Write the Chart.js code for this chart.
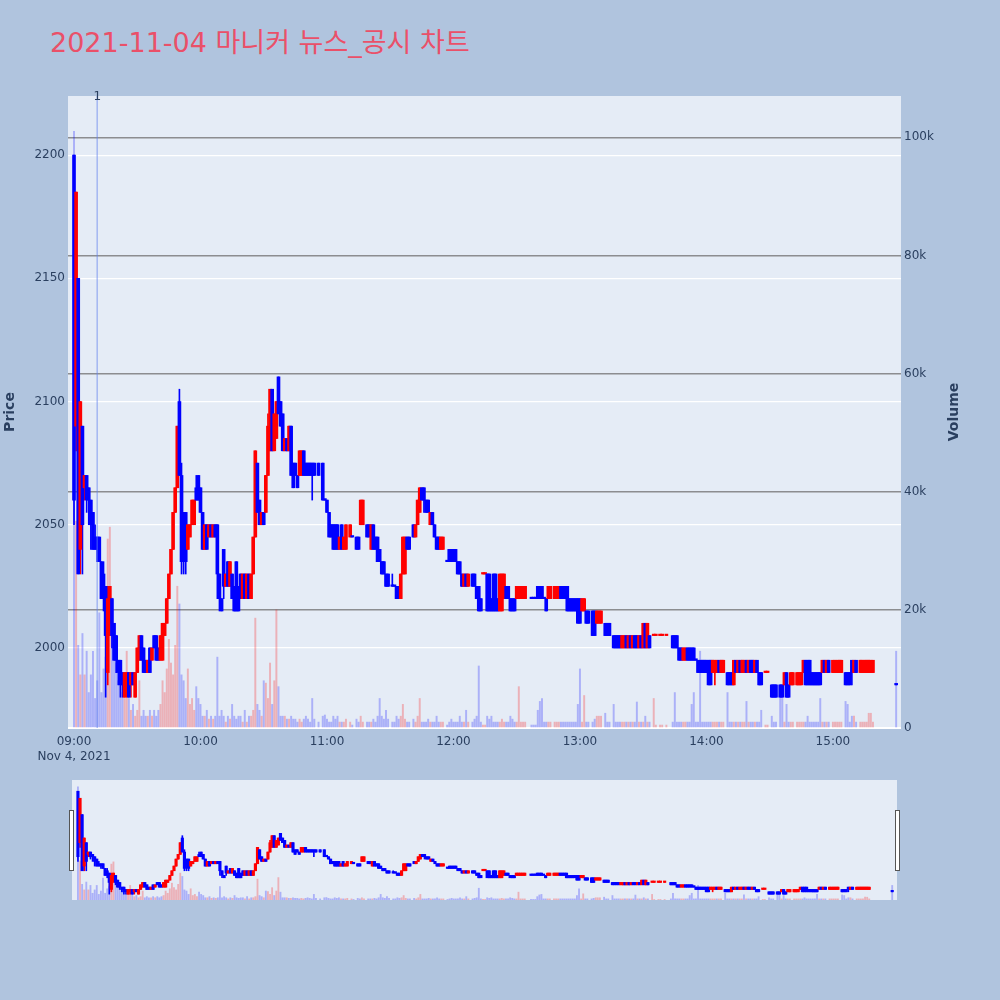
<!DOCTYPE html>
<html>
<head>
<meta charset="utf-8">
<script src="https://cdn.jsdelivr.net/npm/chart.js@4.4.0/dist/chart.umd.min.js"></script>
<style>
  body { margin: 0; background: #b0c4de; width: 1000px; height: 1000px; overflow: hidden; }
  #title { position: absolute; left: 50px; top: 21px; font-size: 27px; color: #ea5069; white-space: nowrap;
           font-family: "DejaVu Sans", "Noto Sans CJK KR", sans-serif; }
  #main { position: absolute; left: 0; top: 0; }
  #slider { position: absolute; left: 66px; top: 780px; }
</style>
</head>
<body>
<div id="title">2021-11-04 마니커 뉴스_공시 차트</div>
<canvas id="main" width="1000" height="770"></canvas>
<canvas id="slider" width="837" height="120"></canvas>
<script>
// minutes after 09:00, one candle per traded minute
const minutes = [
  0,1,2,3,4,5,6,7,8,9,
  10,11,12,13,14,15,16,17,18,19,
  20,21,22,23,24,25,26,27,28,29,
  30,31,32,33,34,35,36,37,38,39,
  40,41,42,43,44,45,46,47,48,49,
  50,51,52,53,54,55,56,57,58,59,
  60,61,62,63,64,65,66,67,68,69,
  70,71,72,73,74,75,76,77,78,79,
  80,81,82,83,84,85,86,87,88,89,
  90,91,92,93,94,95,96,97,98,99,
  100,101,102,103,104,105,106,107,108,109,
  110,111,112,113,114,116,118,119,120,121,
  122,123,124,125,126,127,128,129,131,132,
  134,135,136,137,139,140,141,142,143,144,
  145,146,147,148,149,151,152,153,154,155,
  156,157,158,159,161,162,163,164,165,166,
  167,168,169,170,171,172,173,174,175,177,
  178,179,180,181,182,183,184,185,186,187,
  189,190,191,192,193,194,195,196,197,198,
  199,200,201,202,203,204,205,206,207,208,
  209,210,211,212,213,214,217,218,219,220,
  221,222,223,224,225,226,228,229,230,231,
  232,233,234,235,236,237,238,239,240,241,
  242,243,244,246,247,248,249,250,252,253,
  254,256,257,258,259,260,261,262,263,264,
  265,266,267,268,269,270,271,272,273,275,
  276,278,279,281,284,285,286,287,288,289,
  290,291,292,293,294,295,296,297,298,299,
  300,301,302,303,304,305,306,307,308,310,
  311,312,313,314,315,316,317,318,319,320,
  321,322,323,324,325,326,328,329,331,332,
  333,335,336,337,338,339,340,341,343,344,
  345,346,347,348,349,350,351,352,353,354,
  355,356,357,358,360,361,362,363,364,366,
  367,368,369,370,371,373,374,375,376,377,
  378,379,390
];

const opens = [
  2200,2090,2150,2040,2090,2065,2070,2065,2060,2055,
  2045,2045,2045,2035,2030,2025,1990,2010,2020,2010,
  2005,1995,1995,1990,1980,1985,1990,1985,1990,1980,
  1990,1995,2005,2000,1995,1990,2000,1995,2005,2005,
  2000,1995,1995,2005,2010,2020,2030,2040,2055,2065,
  2100,2070,2055,2055,2040,2045,2050,2050,2065,2070,
  2065,2055,2040,2050,2045,2050,2045,2050,2050,2030,
  2020,2040,2025,2035,2025,2030,2025,2035,2025,2030,
  2020,2030,2020,2030,2020,2030,2045,2075,2060,2050,
  2055,2055,2070,2080,2105,2080,2085,2110,2100,2095,
  2080,2085,2080,2090,2075,2075,2070,2070,2070,2080,
  2075,2075,2075,2075,2075,2075,2075,2060,2060,2055,
  2050,2050,2050,2050,2040,2050,2040,2040,2045,2045,
  2045,2045,2050,2050,2050,2050,2040,2050,2045,2045,
  2040,2035,2035,2030,2030,2025,2025,2025,2025,2020,
  2030,2030,2045,2045,2050,2045,2050,2055,2065,2065,
  2060,2060,2050,2055,2050,2045,2045,2040,2040,2035,
  2040,2040,2040,2040,2035,2035,2030,2025,2030,2025,
  2030,2030,2025,2025,2020,2030,2030,2030,2030,2020,
  2030,2030,2020,2015,2015,2020,2025,2025,2020,2020,
  2020,2020,2020,2020,2020,2020,2020,2020,2020,2025,
  2025,2025,2020,2020,2020,2020,2020,2020,2020,2025,
  2025,2025,2025,2020,2020,2020,2020,2020,2020,2015,
  2015,2015,2015,2015,2015,2010,2010,2010,2010,2010,
  2010,2005,2005,2005,2005,2000,2000,2005,2000,2005,
  2000,2005,2005,2000,2005,2000,2010,2000,2005,2005,
  2005,2005,2005,2005,2005,2005,2005,2000,2000,1995,
  1995,2000,2000,2000,2000,1995,1995,1995,1995,1995,
  1995,1995,1995,1990,1990,1990,1995,1990,1990,1990,
  1990,1990,1985,1995,1990,1995,1990,1990,1995,1990,
  1995,1995,1990,1995,1990,1990,1990,1990,1985,1985,
  1985,1985,1985,1985,1990,1985,1985,1985,1985,1985,
  1985,1990,1995,1995,1995,1990,1990,1990,1990,1990,
  1990,1995,1990,1995,1990,1990,1990,1990,1990,1990,
  1990,1990,1995,1990,1995,1990,1990,1990,1990,1990,
  1990,1990,1985
];

const highs = [
  2200,2185,2150,2100,2090,2070,2070,2065,2060,2055,
  2050,2045,2045,2035,2035,2025,2025,2025,2020,2010,
  2005,1995,1995,1990,1990,1990,1990,1990,1990,1990,
  2000,2005,2005,2000,1995,1995,2000,2000,2005,2005,
  2000,2005,2010,2010,2020,2030,2040,2055,2065,2090,
  2105,2075,2055,2055,2050,2050,2060,2060,2070,2070,
  2065,2055,2050,2050,2050,2050,2050,2050,2050,2030,
  2020,2040,2030,2035,2035,2030,2025,2035,2025,2030,
  2030,2030,2030,2030,2030,2045,2080,2075,2060,2055,
  2055,2070,2095,2105,2105,2095,2100,2110,2100,2095,
  2085,2085,2090,2090,2075,2075,2070,2080,2080,2080,
  2075,2075,2075,2075,2075,2075,2075,2060,2060,2055,
  2050,2050,2050,2050,2045,2050,2045,2050,2050,2045,
  2045,2045,2060,2060,2050,2050,2050,2050,2045,2045,
  2040,2035,2035,2030,2030,2030,2025,2025,2025,2030,
  2045,2045,2045,2045,2050,2050,2060,2065,2065,2065,
  2060,2060,2055,2055,2050,2045,2045,2045,2045,2035,
  2040,2040,2040,2040,2035,2035,2030,2030,2030,2030,
  2030,2030,2025,2025,2020,2030,2030,2030,2030,2020,
  2030,2030,2020,2030,2030,2030,2025,2025,2020,2020,
  2020,2025,2025,2025,2025,2025,2020,2020,2020,2025,
  2025,2025,2020,2020,2025,2025,2025,2025,2025,2025,
  2025,2025,2025,2020,2020,2020,2020,2020,2020,2020,
  2020,2015,2015,2015,2015,2015,2015,2015,2010,2010,
  2010,2005,2005,2005,2005,2005,2005,2005,2005,2005,
  2005,2005,2005,2005,2005,2010,2010,2010,2005,2005,
  2005,2005,2005,2005,2005,2005,2005,2000,2000,2000,
  2000,2000,2000,2000,2000,1995,1995,1995,1995,1995,
  1995,1995,1995,1995,1995,1995,1995,1995,1995,1990,
  1990,1990,1995,1995,1995,1995,1995,1995,1995,1995,
  1995,1995,1995,1995,1990,1990,1990,1990,1985,1985,
  1985,1985,1985,1990,1990,1985,1990,1990,1990,1990,
  1990,1995,1995,1995,1995,1990,1990,1990,1990,1990,
  1995,1995,1995,1995,1995,1995,1995,1995,1995,1990,
  1990,1990,1995,1995,1995,1995,1995,1995,1995,1995,
  1995,1995,1985
];

const lows = [
  2050,2080,2030,2030,2030,2060,2055,2050,2040,2040,
  2040,2035,2035,2020,2015,1980,1985,2005,2000,1995,
  1990,1985,1980,1980,1980,1980,1980,1980,1985,1980,
  1990,1995,1995,1990,1990,1990,1990,1995,2000,1995,
  1995,1995,1995,2005,2010,2020,2030,2040,2055,2065,
  2070,2030,2030,2030,2040,2045,2050,2050,2060,2060,
  2055,2040,2040,2040,2045,2045,2045,2045,2020,2015,
  2015,2020,2025,2025,2025,2020,2015,2015,2015,2020,
  2020,2020,2020,2020,2020,2030,2045,2055,2050,2050,
  2050,2055,2070,2080,2080,2080,2085,2095,2090,2080,
  2080,2080,2080,2070,2065,2070,2065,2070,2070,2070,
  2070,2070,2070,2060,2070,2070,2060,2060,2055,2045,
  2045,2040,2040,2040,2040,2040,2040,2040,2045,2045,
  2040,2040,2050,2050,2045,2045,2040,2040,2040,2035,
  2035,2030,2030,2025,2025,2025,2025,2020,2020,2020,
  2030,2030,2040,2040,2045,2045,2050,2055,2060,2055,
  2055,2055,2050,2050,2045,2040,2040,2040,2040,2035,
  2035,2035,2035,2035,2030,2030,2025,2025,2025,2025,
  2025,2025,2020,2015,2015,2030,2030,2015,2015,2015,
  2015,2015,2015,2015,2015,2020,2020,2020,2015,2015,
  2015,2020,2020,2020,2020,2020,2020,2020,2020,2020,
  2020,2020,2020,2015,2020,2020,2020,2020,2020,2020,
  2020,2020,2015,2015,2015,2015,2015,2010,2010,2015,
  2015,2010,2010,2005,2005,2010,2010,2010,2005,2005,
  2005,2000,2000,2000,2000,2000,2000,2000,2000,2000,
  2000,2000,2000,2000,2000,2000,2000,2000,2000,2005,
  2005,2005,2005,2005,2000,2000,2000,1995,1995,1995,
  1995,1995,1995,1995,1995,1995,1990,1990,1990,1990,
  1990,1985,1985,1990,1985,1990,1990,1990,1990,1985,
  1985,1985,1985,1990,1990,1990,1990,1990,1990,1990,
  1990,1990,1990,1990,1985,1985,1990,1990,1980,1980,
  1980,1980,1980,1985,1980,1980,1985,1985,1985,1985,
  1985,1990,1985,1985,1985,1985,1985,1985,1985,1985,
  1990,1990,1990,1990,1990,1990,1990,1990,1990,1985,
  1985,1985,1985,1990,1990,1990,1990,1990,1990,1990,
  1990,1990,1985
];

const closes = [
  2060,2185,2030,2100,2050,2070,2060,2060,2050,2040,
  2040,2040,2035,2020,2020,2005,2020,2025,2005,1995,
  1995,1990,1985,1985,1990,1990,1980,1990,1985,1990,
  2000,2005,1995,1990,1990,1995,1990,2000,2000,1995,
  1995,2005,2010,2010,2020,2030,2040,2055,2065,2090,
  2070,2035,2040,2035,2050,2050,2060,2060,2060,2060,
  2055,2040,2050,2040,2050,2045,2050,2045,2030,2020,
  2015,2025,2030,2025,2035,2020,2015,2015,2015,2020,
  2030,2020,2030,2020,2030,2045,2080,2055,2050,2055,
  2050,2070,2090,2105,2080,2095,2100,2095,2090,2080,
  2085,2080,2090,2070,2065,2070,2065,2080,2080,2070,
  2070,2070,2070,2070,2070,2070,2060,2060,2055,2045,
  2045,2040,2040,2040,2045,2040,2045,2050,2050,2045,
  2040,2040,2060,2060,2045,2045,2050,2040,2040,2035,
  2035,2030,2030,2025,2025,2025,2025,2020,2020,2030,
  2045,2045,2040,2040,2045,2050,2060,2065,2060,2060,
  2055,2055,2055,2050,2045,2040,2040,2045,2045,2035,
  2035,2035,2035,2035,2030,2030,2025,2030,2025,2030,
  2025,2025,2020,2015,2015,2030,2030,2015,2015,2015,
  2015,2015,2015,2030,2030,2030,2020,2020,2015,2015,
  2015,2025,2025,2025,2025,2025,2020,2020,2020,2020,
  2020,2020,2020,2015,2025,2025,2025,2025,2025,2020,
  2020,2020,2015,2015,2015,2015,2015,2010,2010,2020,
  2020,2010,2010,2005,2005,2015,2015,2015,2005,2005,
  2005,2000,2000,2000,2000,2005,2005,2000,2005,2000,
  2005,2000,2000,2005,2000,2010,2000,2010,2000,2005,
  2005,2005,2005,2005,2000,2000,2000,1995,1995,2000,
  2000,1995,1995,1995,1995,1995,1990,1990,1990,1990,
  1990,1985,1985,1995,1995,1995,1990,1995,1995,1985,
  1985,1985,1995,1990,1995,1990,1995,1995,1990,1995,
  1990,1990,1995,1990,1985,1985,1990,1990,1980,1980,
  1980,1980,1980,1990,1980,1980,1990,1990,1990,1990,
  1990,1995,1985,1985,1985,1985,1985,1985,1985,1985,
  1995,1990,1995,1990,1995,1995,1995,1995,1995,1985,
  1985,1985,1990,1995,1990,1995,1995,1995,1995,1995,
  1995,1995,1985
];

// volume in thousands of shares
const volumesK = [
  101,35,14,9,16,9,13,6,9,13,
  5,8,19.5,6,10,12,32,34,22,13,
  11,8,9,6,5,13,5,3,4,2,
  3,8,2,3,2,2,3,2,3,2,
  3,4,8,6,10,15,11,9,14,24,
  21,9,8,5,10,4,5,3,7,5,
  4,2,2,3,1.5,2,1.5,2,12,2,
  3,2,1,2,1.5,4,2,1.5,2,2,
  1,3,1,2,2,3,18.6,4,3,2,
  8,7.6,5,11,4,8,20,7,2,2,
  2,1.5,1.5,2,1.5,1.5,1,1.5,1,1.5,
  2,1.5,1,5,1.5,1,2,2.2,1.5,1,
  1,2,1.5,2,1,1,1,1.5,1,0.5,
  1.5,1,2,1,1,1,1,1.5,1,2,
  5,2,1.5,3,1.5,1,1,2,1.5,2,
  4,1.5,1,1,1.5,1,2,5,1,1,
  1,1.5,1,1,1,2,1,1,1,0.5,
  1,1.5,1,1,1,2,1,1,3,1,
  1,1.5,2,10.5,1,0.5,0.5,2,1.5,2,
  1,1,1,1,1.5,1,1,1,2,1.5,
  1,1,7,1,1,1,0.5,0.5,0.5,3,
  4.5,5,1,1,1,1,1,1,1,1,
  1,1,1,1,1,1,1,4,10,1,
  5.5,1,1,1,1.5,2,2,2,2.5,1,
  1,4,1,1,1,1,1,1,1,1,
  1,1,4.4,1,1,1,2,1,1,5,
  0.5,0.5,0.5,0.5,1,6,1,1,1,1,
  1,1,1,4,6,1,1,13,1,1,
  1,1,1,1,1,1,1,1,1,6,
  1,1,1,1,1,1,1,1,4.5,1,
  1,1,1,1,1,3,0.5,0.5,2,1,
  1,5,5,1,4,1,1,1,1,1,
  1,1,1,2,1,1,1,1,1,5,
  1,1,1,1,1,1,1,1,1,4.5,
  4,1,2,2,1,1,1,1,1,2.5,
  2.5,1,13
];

const priceTicks = [2000, 2050, 2100, 2150, 2200];
const volumeTicks = [0, 20, 40, 60, 80, 100];
const hourTicks = [0, 60, 120, 180, 240, 300, 360];
const newsMinutes = [11];
const newsLabels = ['1'];

const X_MIN = -2.85, X_MAX = 392.3;
const P_MIN = 1967.5, P_MAX = 2224;
const V_MAX = 107;
const UP = '#ff0000', DOWN = '#0000ff';
const TICK_COLOR = '#2a3f5f';
const FONT = 'DejaVu Sans';

// direction of each candle (flat candles follow the previous close)
const isUp = [];
closes.forEach((c, i) => {
    const o = opens[i];
    const prev = i > 0 ? closes[i - 1] : c;
    if (c > o) isUp.push(true);
    else if (c < o) isUp.push(false);
    else if (c > prev) isUp.push(true);
    else if (c < prev) isUp.push(false);
    else isUp.push(i > 0 ? isUp[i - 1] : false);
});
const candleColors = isUp.map(u => u ? UP : DOWN);
const volumeColors = isUp.map(u => u ? 'rgba(255,0,0,0.25)' : 'rgba(0,0,255,0.25)');

function fmtTime(m) {
    const t = 9 * 60 + m;
    const h = Math.floor(t / 60), mm = t % 60;
    return String(h).padStart(2, '0') + ':' + String(mm).padStart(2, '0');
}

function makeDatasets(bodyW, wickW, volW) {
    return [
        {
            label: 'body', yAxisID: 'y', order: 1, grouped: false,
            data: minutes.map((m, i) => ({ x: m, y: [opens[i], closes[i]] })),
            backgroundColor: candleColors, barThickness: bodyW, minBarLength: 1.5
        },
        {
            label: 'wick', yAxisID: 'y', order: 2, grouped: false,
            data: minutes.map((m, i) => ({ x: m, y: [lows[i], highs[i]] })),
            backgroundColor: candleColors, barThickness: wickW
        },
        {
            label: 'volume', yAxisID: 'y1', order: 3, grouped: false,
            data: minutes.map((m, i) => ({ x: m, y: volumesK[i] })),
            backgroundColor: volumeColors, barThickness: volW
        }
    ];
}

const plotBg = {
    id: 'plotBg',
    beforeDraw(chart) {
        const { ctx, chartArea: a } = chart;
        ctx.save();
        ctx.fillStyle = '#e5ecf6';
        ctx.fillRect(a.left, a.top, a.right - a.left, a.bottom - a.top);
        ctx.restore();
    }
};

// news marker lines and rotated axis titles
const mainExtras = {
    id: 'mainExtras',
    afterDatasetsDraw(chart) {
        const { ctx, chartArea: a, scales } = chart;
        ctx.save();
        newsMinutes.forEach((m, i) => {
            const x = scales.x.getPixelForValue(m);
            ctx.strokeStyle = 'rgba(100,130,240,0.5)';
            ctx.lineWidth = 1.5;
            ctx.beginPath();
            ctx.moveTo(x, a.top);
            ctx.lineTo(x, a.bottom);
            ctx.stroke();
            ctx.fillStyle = TICK_COLOR;
            ctx.font = '12px "' + FONT + '"';
            ctx.textAlign = 'center';
            ctx.textBaseline = 'bottom';
            ctx.fillText(newsLabels[i], x, a.top + 7);
        });
        ctx.fillStyle = TICK_COLOR;
        ctx.font = 'bold 14px "' + FONT + '"';
        ctx.textAlign = 'center';
        ctx.textBaseline = 'middle';
        const midY = (a.top + a.bottom) / 2;
        [[10, 'Price'], [954, 'Volume']].forEach(([x, txt]) => {
            ctx.save();
            ctx.translate(x, midY);
            ctx.rotate(-Math.PI / 2);
            ctx.fillText(txt, 0, 0);
            ctx.restore();
        });
        ctx.restore();
    }
};

new Chart(document.getElementById('main'), {
    type: 'bar',
    data: { datasets: makeDatasets(3, 1, 1.3) },
    options: {
        responsive: false,
        animation: false,
        layout: { padding: { top: 96, right: 39, left: 0, bottom: 0 } },
        plugins: { legend: { display: false }, tooltip: { enabled: false } },
        scales: {
            x: {
                type: 'linear', min: X_MIN, max: X_MAX, offset: false,
                grid: { display: false, drawTicks: false },
                border: { display: false },
                afterBuildTicks: s => { s.ticks = hourTicks.map(v => ({ value: v })); },
                afterFit: s => { s.height = 42; },
                ticks: {
                    padding: 7, color: TICK_COLOR, maxRotation: 0, autoSkip: false,
                    font: { family: FONT, size: 12 },
                    callback: v => v === 0 ? [fmtTime(v), 'Nov 4, 2021'] : fmtTime(v)
                }
            },
            y: {
                position: 'left', min: P_MIN, max: P_MAX,
                grid: { color: '#ffffff', lineWidth: 1.2, drawTicks: false },
                border: { display: false },
                afterBuildTicks: s => { s.ticks = priceTicks.map(v => ({ value: v })); },
                afterFit: s => { s.width = 68; },
                ticks: {
                    padding: 3, color: TICK_COLOR, font: { family: FONT, size: 12 },
                    callback: v => String(v)
                }
            },
            y1: {
                position: 'right', min: 0, max: V_MAX,
                grid: {
                    drawTicks: false,
                    color: c => c.tick.value === 0 ? '#ffffff' : 'rgba(110,110,110,0.75)',
                    lineWidth: c => c.tick.value === 0 ? 2 : 1.5
                },
                border: { display: false },
                afterBuildTicks: s => { s.ticks = volumeTicks.map(v => ({ value: v })); },
                afterFit: s => { s.width = 60; },
                ticks: {
                    padding: 3, color: TICK_COLOR, font: { family: FONT, size: 12 },
                    callback: v => v === 0 ? '0' : v + 'k'
                }
            }
        }
    },
    plugins: [plotBg, mainExtras]
});

// range slider handles
const sliderHandles = {
    id: 'sliderHandles',
    afterDraw(chart) {
        const { ctx, chartArea: a } = chart;
        ctx.save();
        ctx.fillStyle = '#ffffff';
        ctx.strokeStyle = '#555555';
        ctx.lineWidth = 1;
        [a.left - 3, a.right - 2].forEach(x => {
            ctx.fillRect(x + 0.5, 30.5, 4, 60);
            ctx.strokeRect(x + 0.5, 30.5, 4, 60);
        });
        ctx.restore();
    }
};

new Chart(document.getElementById('slider'), {
    type: 'bar',
    data: { datasets: makeDatasets(2.5, 1, 1.2) },
    options: {
        responsive: false,
        animation: false,
        layout: { padding: { left: 6, right: 6, top: 0, bottom: 0 } },
        plugins: { legend: { display: false }, tooltip: { enabled: false } },
        scales: {
            x: { type: 'linear', min: X_MIN, max: X_MAX, offset: false, display: false },
            y: { min: P_MIN, max: P_MAX, display: false },
            y1: { min: 0, max: V_MAX, display: false, position: 'right' }
        }
    },
    plugins: [plotBg, sliderHandles]
});
</script>
</body>
</html>
